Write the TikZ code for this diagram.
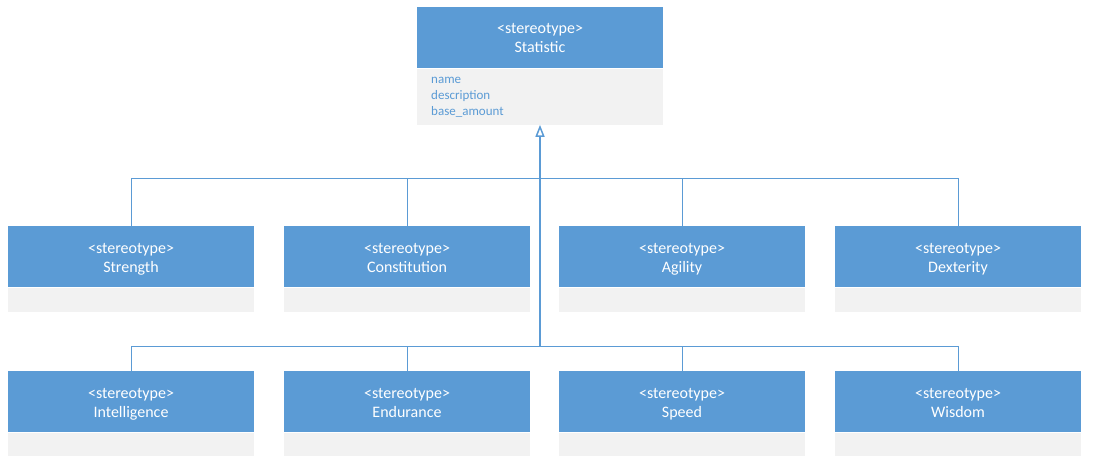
\documentclass[tikz,border=0pt]{standalone}
\usepackage{fontspec}
\setmainfont{Carlito}
\usetikzlibrary{arrows.meta}
\definecolor{hdrblue}{HTML}{5B9BD5}
\definecolor{bodygray}{HTML}{F2F2F2}
\begin{document}
\begin{tikzpicture}[x=1pt,y=-1pt,
  hdr/.style={fill=hdrblue, draw=none, minimum width=246pt, minimum height=61pt, inner sep=0pt, anchor=north},
  htext/.style={inner sep=0pt, text=white, align=center, yshift=-2pt, font=\fontsize{16}{19}\selectfont},
  bdy/.style={fill=bodygray, draw=none, minimum width=246pt, inner sep=0pt, anchor=north},
  attr/.style={anchor=west, inner sep=0pt, align=left, text=hdrblue, font=\fontsize{13}{16}\selectfont},
  conn/.style={draw=hdrblue, line width=1pt},
  trunk/.style={draw=hdrblue, line width=2pt, -{Triangle[open, length=12pt, width=9pt, line width=1.5pt]}}
]
\useasboundingbox (0,0) rectangle (1093,460);

% top class
\node[hdr] (stat) at (540,7) {};
\node[htext] (stat-t) at (stat.center) {<stereotype>\strut\\Statistic\strut};
\node[bdy, minimum height=56pt] (stat-b) at (stat.south) {};
\node[attr] (stat-a) at (431,96) {name\strut\\description\strut\\base\_amount\strut};

% row 1
\node[hdr] (str) at (131,226) {};
\node[htext] (str-t) at (str.center) {<stereotype>\strut\\Strength\strut};
\node[bdy, minimum height=24pt] (str-b) at (str.south) {};
\node[hdr] (con) at (407,226) {};
\node[htext] (con-t) at (con.center) {<stereotype>\strut\\Constitution\strut};
\node[bdy, minimum height=24pt] (con-b) at (con.south) {};
\node[hdr] (agi) at (682,226) {};
\node[htext] (agi-t) at (agi.center) {<stereotype>\strut\\Agility\strut};
\node[bdy, minimum height=24pt] (agi-b) at (agi.south) {};
\node[hdr] (dex) at (958,226) {};
\node[htext] (dex-t) at (dex.center) {<stereotype>\strut\\Dexterity\strut};
\node[bdy, minimum height=24pt] (dex-b) at (dex.south) {};

% row 2
\node[hdr] (int) at (131,371) {};
\node[htext] (int-t) at (int.center) {<stereotype>\strut\\Intelligence\strut};
\node[bdy, minimum height=23pt] (int-b) at (int.south) {};
\node[hdr] (end) at (407,371) {};
\node[htext] (end-t) at (end.center) {<stereotype>\strut\\Endurance\strut};
\node[bdy, minimum height=23pt] (end-b) at (end.south) {};
\node[hdr] (spd) at (682,371) {};
\node[htext] (spd-t) at (spd.center) {<stereotype>\strut\\Speed\strut};
\node[bdy, minimum height=23pt] (spd-b) at (spd.south) {};
\node[hdr] (wis) at (958,371) {};
\node[htext] (wis-t) at (wis.center) {<stereotype>\strut\\Wisdom\strut};
\node[bdy, minimum height=23pt] (wis-b) at (wis.south) {};

% connectors
\coordinate (j1) at (540,178);
\coordinate (j2) at (540,346);
\draw[conn] (str.north) |- (j1);
\draw[conn] (con.north) |- (j1);
\draw[conn] (agi.north) |- (j1);
\draw[conn] (dex.north) |- (j1);
\draw[conn] (int.north) |- (j2);
\draw[conn] (end.north) |- (j2);
\draw[conn] (spd.north) |- (j2);
\draw[conn] (wis.north) |- (j2);
\draw[trunk] (j2) -- (stat-b.south);
\end{tikzpicture}
\end{document}
